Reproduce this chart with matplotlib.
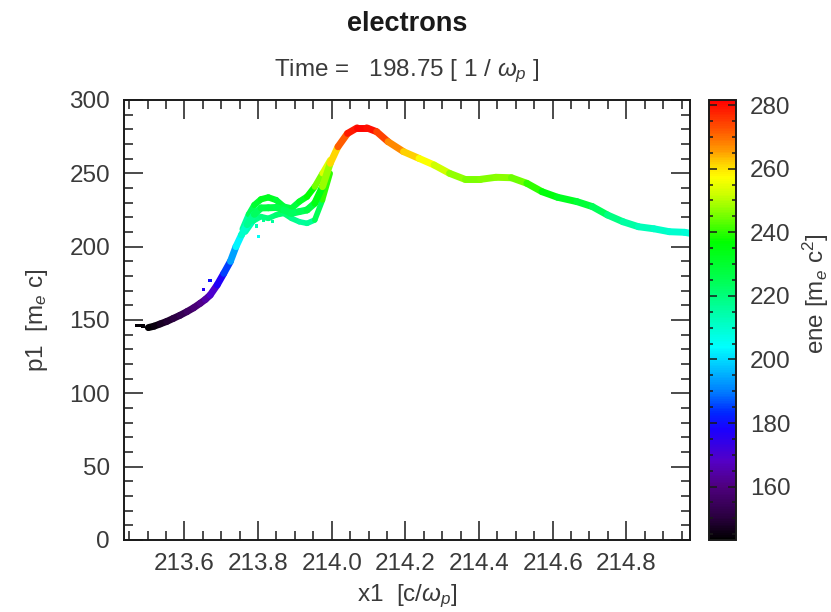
import matplotlib
matplotlib.use('Agg')
import matplotlib.pyplot as plt
import numpy as np
from matplotlib.collections import LineCollection
from matplotlib.colors import LinearSegmentedColormap, Normalize
from matplotlib.ticker import MultipleLocator, FormatStrFormatter

plt.rcParams['font.family'] = ['Liberation Sans', 'DejaVu Sans']
plt.rcParams['mathtext.fontset'] = 'custom'
plt.rcParams['mathtext.rm'] = 'Liberation Sans'
plt.rcParams['mathtext.it'] = 'Liberation Sans:italic'

# ---- data ----
# main particle band (centre line)
main_x = [213.502, 213.518, 213.534, 213.552, 213.570, 213.588, 213.607, 213.625,
          213.643, 213.657, 213.670, 213.689, 213.707, 213.725, 213.740, 213.755,
          213.770, 213.790, 213.808, 213.828, 213.849, 213.870, 213.891, 213.912,
          213.933, 213.954, 213.975, 213.996, 214.017, 214.043, 214.069, 214.095,
          214.122, 214.153, 214.195, 214.237, 214.278, 214.320, 214.362, 214.404,
          214.446, 214.488, 214.530, 214.571, 214.613, 214.666, 214.708, 214.749,
          214.791, 214.833, 214.875, 214.917, 214.958, 214.985]
main_p1 = [144.8, 145.8, 147.3, 149.0, 151.1, 153.2, 155.7, 158.3,
           161.4, 164.0, 167.0, 173.9, 181.8, 190.0, 200.0, 208.0,
           215.0, 222.0, 226.4, 226.5, 226.7, 225.0, 222.7, 223.9,
           225.0, 229.6, 240.9, 256.8, 268.1, 277.2, 281.0, 281.0,
           278.4, 271.6, 264.8, 260.2, 255.7, 250.0, 245.9, 245.9,
           247.3, 247.0, 243.2, 237.5, 233.7, 230.7, 227.3, 221.6,
           217.0, 213.6, 212.2, 210.2, 209.8, 208.6]
main_ene = [143.5, 144.5, 146.0, 148.0, 150.0, 152.0, 154.5, 157.0,
            160.0, 163.0, 166.0, 173.0, 181.0, 189.0, 199.0, 207.0,
            214.0, 221.0, 226.0, 227.0, 227.0, 225.0, 223.0, 224.0,
            225.0, 229.0, 240.0, 256.0, 267.0, 276.0, 281.0, 281.0,
            278.0, 271.0, 264.0, 259.5, 255.0, 249.5, 245.5, 245.5,
            247.0, 246.5, 243.0, 237.0, 233.5, 230.5, 227.0, 221.5,
            217.0, 213.5, 212.0, 210.0, 209.5, 208.5]

# upper and lower edge of the wide part of the band
upper_x = [213.758, 213.775, 213.790, 213.808, 213.828, 213.849, 213.870, 213.891,
           213.912, 213.933, 213.954, 213.975, 213.996]
upper_p1 = [212.0, 222.0, 228.4, 232.3, 233.6, 231.8, 227.3, 226.1,
            230.7, 234.1, 240.9, 250.0, 259.1]
upper_ene = [211.0, 221.0, 228.0, 232.0, 233.0, 231.5, 227.0, 226.0,
             230.5, 234.0, 240.5, 249.5, 258.5]
lower_x = [213.766, 213.787, 213.808, 213.828, 213.849, 213.870, 213.891,
           213.912, 213.933, 213.954, 213.975, 213.996]
lower_p1 = [210.0, 217.5, 220.5, 219.3, 221.6, 222.7, 219.3,
            217.0, 215.9, 218.2, 231.8, 250.0]
lower_ene = [209.5, 217.0, 220.0, 219.0, 221.0, 222.5, 219.0,
             217.0, 216.0, 218.0, 231.5, 249.5]

# stray particles
stray_x = [213.470, 213.479, 213.488, 213.652, 213.670, 213.795, 213.802, 213.815, 213.840]
stray_p1 = [146.1, 146.1, 146.0, 170.9, 176.8, 214.0, 206.8, 218.0, 217.0]
stray_ene = [144.0, 144.0, 144.0, 176.0, 180.0, 213.0, 205.0, 217.0, 216.0]

ene_range = (143.2, 281.6)
x_range = (213.436, 214.973)
p1_range = (0, 300)

# IDL-like rainbow with black bottom
cmap = LinearSegmentedColormap.from_list('rainbow_black', [
    (0.000, (0.00, 0.00, 0.00)),
    (0.049, (0.16, 0.00, 0.24)),
    (0.121, (0.31, 0.00, 0.50)),
    (0.179, (0.33, 0.00, 0.78)),
    (0.251, (0.10, 0.00, 1.00)),
    (0.288, (0.00, 0.15, 1.00)),
    (0.338, (0.00, 0.50, 1.00)),
    (0.439, (0.00, 1.00, 1.00)),
    (0.519, (0.00, 1.00, 0.65)),
    (0.591, (0.00, 1.00, 0.32)),
    (0.678, (0.00, 1.00, 0.00)),
    (0.736, (0.45, 1.00, 0.00)),
    (0.786, (0.80, 1.00, 0.00)),
    (0.826, (1.00, 1.00, 0.00)),
    (0.858, (1.00, 0.82, 0.00)),
    (0.887, (1.00, 0.60, 0.00)),
    (0.931, (1.00, 0.35, 0.00)),
    (1.000, (1.00, 0.00, 0.00)),
])
norm = Normalize(*ene_range)


def add_strand(ax, x, y, c, lw):
    pts = np.column_stack([x, y]).reshape(-1, 1, 2)
    segs = np.concatenate([pts[:-1], pts[1:]], axis=1)
    c = np.asarray(c)
    lc = LineCollection(segs, cmap=cmap, norm=norm, linewidths=lw,
                        capstyle='round', joinstyle='round')
    lc.set_array((c[:-1] + c[1:]) / 2)
    ax.add_collection(lc)


W, H = 831, 612
fig = plt.figure(figsize=(W / 100, H / 100), dpi=100)
ax = fig.add_axes([124 / W, 72 / H, 566 / W, 440 / H])
cax = fig.add_axes([709 / W, 72 / H, 27 / W, 440 / H])

add_strand(ax, upper_x, upper_p1, upper_ene, 4.5)
add_strand(ax, lower_x, lower_p1, lower_ene, 4.0)
add_strand(ax, main_x, main_p1, main_ene, 5.0)
ax.scatter(stray_x, stray_p1, c=stray_ene, cmap=cmap, norm=norm, s=6, marker='s', linewidths=0)

ax.set_xlim(*x_range)
ax.set_ylim(*p1_range)

ink = '#1a1a1a'
grey = '#3a3a3a'
for s in ax.spines.values():
    s.set_linewidth(1.4)
    s.set_color(ink)
ax.xaxis.set_major_locator(MultipleLocator(0.2))
ax.xaxis.set_minor_locator(MultipleLocator(0.05))
ax.xaxis.set_major_formatter(FormatStrFormatter('%.1f'))
ax.yaxis.set_major_locator(MultipleLocator(50))
ax.yaxis.set_minor_locator(MultipleLocator(10))
ax.tick_params(which='both', direction='in', top=True, right=True, color=ink, width=1.1,
               labelsize=17.5, labelcolor=grey)
ax.tick_params(which='major', length=13.5)
ax.tick_params(which='minor', length=6.5)
ax.tick_params(axis='x', pad=9)
ax.tick_params(axis='y', pad=10)

ax.set_xlabel(r'x1  [c/$\omega_p$]', fontsize=17.5, color=grey, labelpad=6)
ax.set_ylabel(r'p1  [m$_e$ c]', fontsize=17.5, color=grey, labelpad=14)

sm = plt.cm.ScalarMappable(norm=norm, cmap=cmap)
cb = fig.colorbar(sm, cax=cax)
cb.outline.set_linewidth(1.4)
cb.outline.set_color(ink)
cax.yaxis.set_major_locator(MultipleLocator(20))
cax.yaxis.set_minor_locator(MultipleLocator(5))
cax.tick_params(which='both', direction='in', left=True, right=True, color=ink, width=1.1,
                labelsize=17.5, labelcolor=grey, pad=10)
cax.tick_params(which='major', length=6)
cax.tick_params(which='minor', length=3)
fig.text(801 / W, 318 / H, r'ene [m$_e$ c$^2$]', rotation=90, ha='left', va='center',
         fontsize=17.5, color=grey)

fig.text(407 / W, 1 - 31 / H, 'electrons', ha='center', va='baseline',
         fontsize=19.5, fontweight='bold', color=ink)
fig.text(407 / W, 1 - 76 / H, r'Time =   198.75 [ 1 / $\omega_p$ ]', ha='center', va='baseline',
         fontsize=17.5, color=grey)

fig.savefig('out.png', dpi=100)
